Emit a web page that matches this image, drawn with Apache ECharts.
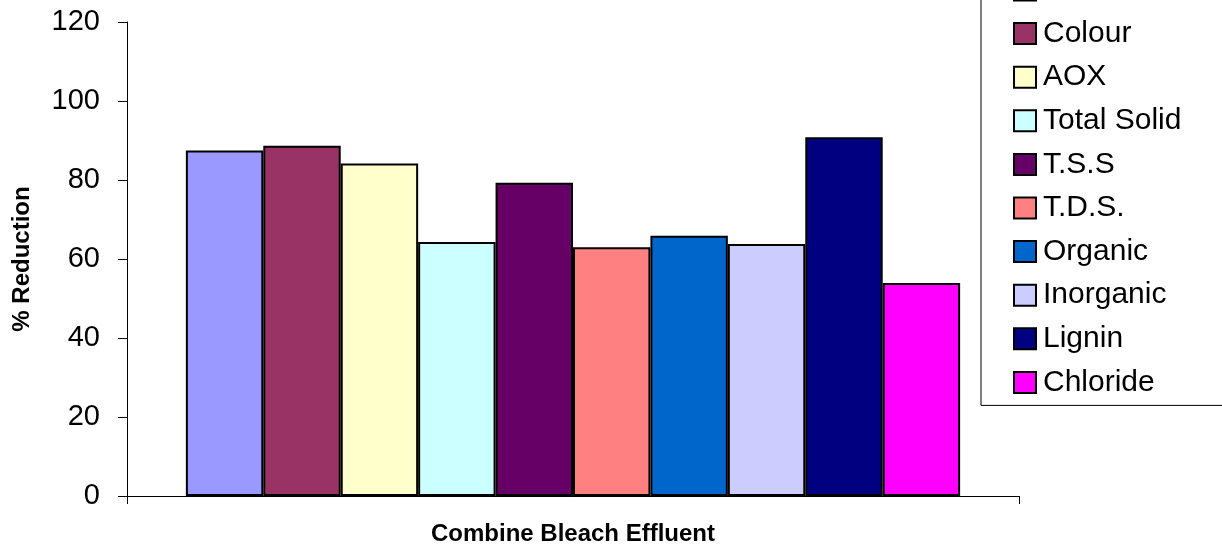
<!DOCTYPE html>
<html>
<head>
<meta charset="utf-8">
<script src="https://cdn.jsdelivr.net/npm/echarts@6/dist/echarts.min.js"></script>
<style>html,body{margin:0;padding:0;background:#fff;}#c{width:1222px;height:551px;}</style>
</head>
<body>
<div id="c"></div>
<script>
var categories = ['Combine Bleach Effluent'];
var seriesNames = ['COD', 'Colour', 'AOX', 'Total Solid', 'T.S.S', 'T.D.S.', 'Organic', 'Inorganic', 'Lignin', 'Chloride'];
var seriesValues = [87.5, 88.7, 84.2, 64.3, 79.3, 63.0, 65.9, 63.8, 90.8, 53.9];
var seriesColors = ['#9999FF', '#993366', '#FFFFCC', '#CCFFFF', '#660066', '#FF8080', '#0066CC', '#CCCCFF', '#000080', '#FF00FF'];
var yTicks = { min: 0, max: 120, interval: 20 };

var FONT = '"Liberation Sans", Arial, sans-serif';
var chart = echarts.init(document.getElementById('c'), null, { renderer: 'canvas' });

var series = seriesNames.map(function (name, i) {
  return {
    name: name,
    type: 'bar',
    data: [seriesValues[i]],
    barGap: '0%',
    barCategoryGap: '13.2%',
    itemStyle: { color: seriesColors[i], borderColor: '#000', borderWidth: 2 }
  };
});

chart.setOption({
  animation: false,
  backgroundColor: '#fff',
  textStyle: { fontFamily: FONT },
  grid: { left: 127, right: 203, top: 22, bottom: 53, containLabel: false },
  legend: {
    orient: 'vertical',
    left: 981,
    top: -37,
    height: 520,
    padding: [12, 80, 8, 32],
    itemWidth: 22,
    itemHeight: 21,
    itemGap: 13.6,
    borderColor: '#000',
    borderWidth: 1,
    backgroundColor: '#fff',
    icon: 'rect',
    itemStyle: { borderColor: '#000', borderWidth: 2 },
    textStyle: { fontFamily: FONT, fontSize: 30, color: '#000', padding: [0, 0, 0, 2] },
    data: seriesNames
  },
  xAxis: {
    type: 'category',
    data: categories,
    name: 'Combine Bleach Effluent',
    nameLocation: 'middle',
    nameGap: 26,
    nameTextStyle: { fontFamily: FONT, fontSize: 24, fontWeight: 'bold', color: '#000' },
    axisLine: { show: true, lineStyle: { color: '#000', width: 1 } },
    axisTick: { show: true, length: 8, lineStyle: { color: '#000' } },
    axisLabel: { show: false }
  },
  yAxis: {
    type: 'value',
    min: yTicks.min,
    max: yTicks.max,
    interval: yTicks.interval,
    name: '% Reduction',
    nameLocation: 'middle',
    nameGap: 93,
    nameTextStyle: { fontFamily: FONT, fontSize: 24, fontWeight: 'bold', color: '#000' },
    axisLine: { show: true, lineStyle: { color: '#000', width: 1 } },
    axisTick: { show: true, length: 9, lineStyle: { color: '#000' } },
    splitLine: { show: false },
    axisLabel: { fontFamily: FONT, fontSize: 29, color: '#000', margin: 27 }
  },
  series: series
});
</script>
</body>
</html>
